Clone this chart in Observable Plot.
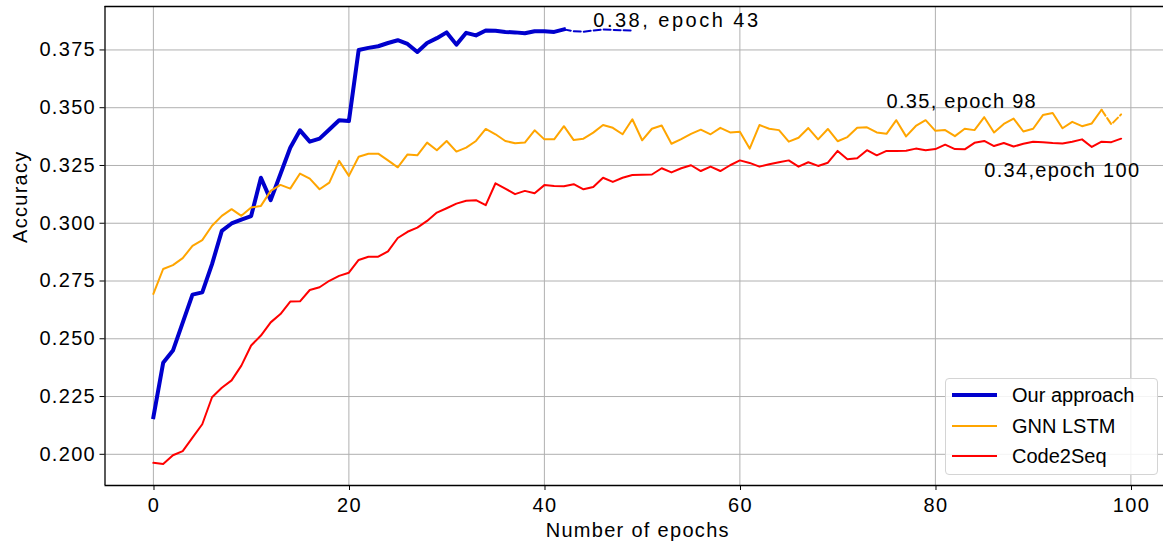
<!DOCTYPE html>
<html>
<head>
<meta charset="utf-8">
<script src="https://cdn.jsdelivr.net/npm/d3@7"></script>
<script src="https://cdn.jsdelivr.net/npm/@observablehq/plot@0.6"></script>
<style>
  html, body { margin: 0; padding: 0; background: #fff; }
  #wrap { position: relative; width: 1163px; height: 543px; overflow: hidden; font-family: "Liberation Sans", Arial, sans-serif; }
  #wrap svg text { letter-spacing: 1.3px; }
  #legend { position: absolute; left: 945px; top: 378px; width: 211px; height: 95px;
            border: 1px solid #d4d4d4; border-radius: 4px; background: rgba(255,255,255,0.85); }
  .lg-row { position: absolute; left: 0; height: 30px; display: flex; align-items: center; }
  .lg-row svg { margin-left: 6px; }
  .lg-row span { margin-left: 15px; font-size: 20px; color: #000; line-height: 1; }
</style>
</head>
<body>
<div id="wrap"></div>
<script>
// ---------- data ----------
const seriesNames = ["Our approach", "GNN LSTM", "Code2Seq"];
const seriesColors = ["#0000cd", "#ffa500", "#ff0000"];
const seriesWidths = [4, 2, 2];

// Our approach: epochs 0..49 (solid up to epoch 42, dashed after)
const ourApproach = [
  0.2161, 0.2396, 0.2449, 0.2570, 0.2691, 0.2701, 0.2823, 0.2967, 0.2999, 0.3016,
  0.3031, 0.3197, 0.3100, 0.3213, 0.3327, 0.3402, 0.3353, 0.3366, 0.3406, 0.3446,
  0.3442, 0.3750, 0.3759, 0.3766, 0.3780, 0.3792, 0.3776, 0.3741, 0.3780, 0.3801,
  0.3826, 0.3773, 0.3824, 0.3813, 0.3834, 0.3833, 0.3828, 0.3826, 0.3822, 0.3831,
  0.3831, 0.3828, 0.3839, 0.3831, 0.3829, 0.3834, 0.3838, 0.3837, 0.3835, 0.3834
];
const ourSolidEnd = 42;

// GNN LSTM: epochs 0..99 (solid up to epoch 97, dashed after)
const gnnLstm = [
  0.2694, 0.2802, 0.2819, 0.2849, 0.2902, 0.2927, 0.2989, 0.3032, 0.3061, 0.3032,
  0.3068, 0.3075, 0.3140, 0.3166, 0.3150, 0.3215, 0.3193, 0.3147, 0.3176, 0.3270,
  0.3205, 0.3288, 0.3301, 0.3301, 0.3272, 0.3242, 0.3298, 0.3294, 0.3349, 0.3316,
  0.3356, 0.3310, 0.3327, 0.3356, 0.3408, 0.3385, 0.3356, 0.3346, 0.3349, 0.3402,
  0.3363, 0.3363, 0.3420, 0.3360, 0.3366, 0.3392, 0.3425, 0.3413, 0.3385, 0.3450,
  0.3359, 0.3409, 0.3423, 0.3344, 0.3364, 0.3387, 0.3405, 0.3385, 0.3413, 0.3393,
  0.3396, 0.3323, 0.3425, 0.3409, 0.3403, 0.3353, 0.3370, 0.3412, 0.3363, 0.3408,
  0.3355, 0.3373, 0.3413, 0.3415, 0.3393, 0.3387, 0.3446, 0.3376, 0.3421, 0.3446,
  0.3400, 0.3403, 0.3377, 0.3409, 0.3403, 0.3459, 0.3393, 0.3430, 0.3453, 0.3397,
  0.3409, 0.3468, 0.3477, 0.3411, 0.3439, 0.3420, 0.3432, 0.3491, 0.3428, 0.3471
];
const gnnSolidEnd = 97;

// Code2Seq: epochs 0..99
const code2seq = [
  0.1963, 0.1958, 0.1996, 0.2014, 0.2072, 0.2130, 0.2247, 0.2288, 0.2320, 0.2384,
  0.2471, 0.2514, 0.2571, 0.2607, 0.2661, 0.2662, 0.2711, 0.2723, 0.2751, 0.2772,
  0.2786, 0.2841, 0.2855, 0.2855, 0.2878, 0.2936, 0.2963, 0.2981, 0.3010, 0.3046,
  0.3065, 0.3085, 0.3097, 0.3100, 0.3078, 0.3173, 0.3150, 0.3126, 0.3140, 0.3130,
  0.3165, 0.3161, 0.3160, 0.3169, 0.3147, 0.3157, 0.3197, 0.3179, 0.3197, 0.3209,
  0.3210, 0.3211, 0.3238, 0.3220, 0.3238, 0.3251, 0.3226, 0.3245, 0.3226, 0.3251,
  0.3272, 0.3261, 0.3245, 0.3255, 0.3264, 0.3272, 0.3245, 0.3264, 0.3248, 0.3262,
  0.3313, 0.3277, 0.3281, 0.3316, 0.3294, 0.3313, 0.3313, 0.3314, 0.3323, 0.3316,
  0.3321, 0.3340, 0.3321, 0.3320, 0.3348, 0.3356, 0.3334, 0.3347, 0.3332, 0.3344,
  0.3353, 0.3350, 0.3347, 0.3345, 0.3353, 0.3363, 0.3330, 0.3353, 0.3351, 0.3366
];

const xTicks = [0, 20, 40, 60, 80, 100];
const yTicks = [0.200, 0.225, 0.250, 0.275, 0.300, 0.325, 0.350, 0.375];
const xDomain = [-4.95, 103.95];
const yDomain = [0.1865, 0.3938];

const annotations = [
  {epoch: 45, acc: 0.385, text: "0.38, epoch 43"},
  {epoch: 75, acc: 0.35,  text: "0.35, epoch 98"},
  {epoch: 85, acc: 0.32,  text: "0.34,epoch 100"}
];

// ---------- build rows ----------
const rows = (vals) => vals.map((v, i) => ({epoch: i, acc: v}));
const ourRows = rows(ourApproach);
const gnnRows = rows(gnnLstm);
const c2sRows = rows(code2seq);

const chart = Plot.plot({
  width: 1163,
  height: 543,
  marginLeft: 104.5,
  marginRight: 0,
  marginTop: 6,
  marginBottom: 58,
  style: {fontFamily: "'Liberation Sans', Arial, sans-serif", fontSize: "20px", color: "#000", background: "#fff", overflow: "hidden"},
  x: {domain: xDomain, range: [104.5, 1169]},
  y: {domain: yDomain},
  marks: [
    Plot.gridX(xTicks, {stroke: "#b0b0b0", strokeOpacity: 1, strokeWidth: 1}),
    Plot.gridY(yTicks, {stroke: "#b0b0b0", strokeOpacity: 1, strokeWidth: 1}),
    // Our approach
    Plot.line(ourRows.filter(d => d.epoch <= ourSolidEnd), {x: "epoch", y: "acc", stroke: seriesColors[0], strokeWidth: seriesWidths[0], strokeLinejoin: "round", strokeLinecap: "square"}),
    Plot.line(ourRows.filter(d => d.epoch >= ourSolidEnd), {x: "epoch", y: "acc", stroke: seriesColors[0], strokeWidth: 2, strokeDasharray: "7,3"}),
    // GNN LSTM
    Plot.line(gnnRows.filter(d => d.epoch <= gnnSolidEnd), {x: "epoch", y: "acc", stroke: seriesColors[1], strokeWidth: seriesWidths[1], strokeLinejoin: "round"}),
    Plot.line(gnnRows.filter(d => d.epoch >= gnnSolidEnd), {x: "epoch", y: "acc", stroke: seriesColors[1], strokeWidth: 2, strokeDasharray: "7,3"}),
    // Code2Seq
    Plot.line(c2sRows, {x: "epoch", y: "acc", stroke: seriesColors[2], strokeWidth: seriesWidths[2], strokeLinejoin: "round"}),
    // spines
    Plot.ruleX([xDomain[0]], {stroke: "#000", strokeWidth: 1.3}),
    Plot.ruleY(yDomain, {stroke: "#000", strokeWidth: 1.3}),
    // axes
    Plot.axisX(xTicks, {tickSize: 5, tickPadding: 7, fontSize: 20, label: null, tickFormat: d => String(d), dx: 0.6, stroke: "#000"}),
    Plot.axisY(yTicks, {tickSize: 5, tickPadding: 4, fontSize: 20, label: null, tickFormat: d3.format(".3f"), stroke: "#000"}),
    // axis labels
    Plot.text(["Number of epochs"], {frameAnchor: "bottom", dy: 51.7, dx: 3.5, lineAnchor: "bottom", fontSize: 20, fill: "#000"}),
    Plot.text(["Accuracy"], {frameAnchor: "left", rotate: -90, dx: -78.5, dy: -3, lineAnchor: "bottom", fontSize: 20, fill: "#000"}),
    // annotations
    Plot.text(annotations, {x: "epoch", y: "acc", text: "text", textAnchor: "start", lineAnchor: "bottom", fontSize: 20, fill: "#000"})
  ]
});

d3.select(chart).selectAll("text")
  .filter(function() { return this.textContent === annotations[0].text; })
  .style("letter-spacing", "2.5px");

const wrap = document.getElementById("wrap");
wrap.appendChild(chart);

// legend (HTML overlay inside the axes area, like matplotlib's lower-right legend)
const legend = document.createElement("div");
legend.id = "legend";
seriesNames.forEach((name, i) => {
  const row = document.createElement("div");
  row.className = "lg-row";
  row.style.top = (1 + i * 30.7) + "px";
  row.innerHTML = `<svg width="45" height="10"><line x1="0" y1="5" x2="45" y2="5" stroke="${seriesColors[i]}" stroke-width="${seriesWidths[i]}"/></svg><span>${name}</span>`;
  legend.appendChild(row);
});
wrap.appendChild(legend);
</script>
</body>
</html>
